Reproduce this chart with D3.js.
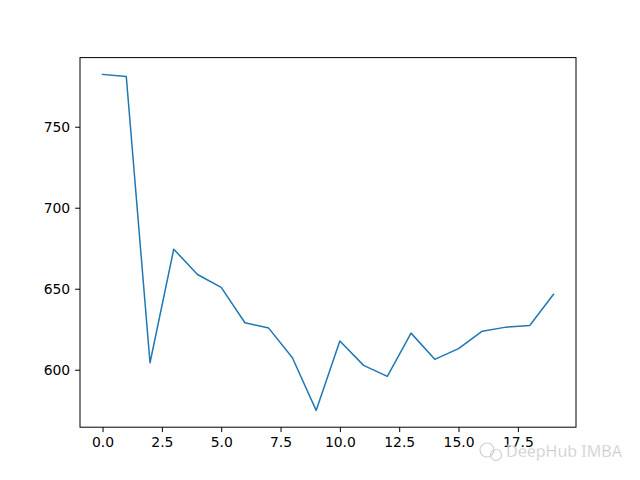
<!DOCTYPE html>
<html><head><meta charset="utf-8">
<script src="https://cdn.jsdelivr.net/npm/d3@7"></script>
<style>body{margin:0;background:#fff}svg{display:block}</style>
</head><body>
<script>
const xValues = d3.range(0, 20);
const yValues = [782.3, 781.0, 604.3, 674.4, 658.8, 650.8, 629.0, 625.7, 607.4, 574.9,
                 617.7, 602.7, 595.9, 622.6, 606.4, 613.0, 623.8, 626.3, 627.3, 646.5];
const xTicks = [0, 2.5, 5, 7.5, 10, 12.5, 15, 17.5];
const yTicks = [600, 650, 700, 750];

const W = 640, H = 480;
const m = {left: 80, right: 576, top: 57.6, bottom: 427.2};
const svg = d3.select("body").append("svg").attr("width", W).attr("height", H);

const xmin = d3.min(xValues), xmax = d3.max(xValues);
const ymin = d3.min(yValues), ymax = d3.max(yValues);
const xp = (xmax - xmin) * 0.05, yp = (ymax - ymin) * 0.05;
const x = d3.scaleLinear().domain([xmin - xp, xmax + xp]).range([m.left, m.right]);
const y = d3.scaleLinear().domain([ymin - yp, ymax + yp]).range([m.bottom, m.top]);

const font = "'DejaVu Sans', sans-serif";

const line = d3.line().x((d, i) => x(xValues[i])).y(d => y(d));
svg.append("path").datum(yValues).attr("d", line)
  .attr("fill", "none").attr("stroke", "#1f77b4").attr("stroke-width", 1.5)
  .attr("stroke-linejoin", "round").attr("stroke-linecap", "square");

const xAxis = svg.append("g").attr("transform", `translate(0,${m.bottom})`)
  .call(d3.axisBottom(x).tickValues(xTicks).tickFormat(d3.format(".1f")).tickSize(4.9).tickPadding(4.9).tickSizeOuter(0));
const yAxis = svg.append("g").attr("transform", `translate(${m.left},0)`)
  .call(d3.axisLeft(y).tickValues(yTicks).tickFormat(d3.format("d")).tickSize(4.9).tickPadding(4.9).tickSizeOuter(0));
[xAxis, yAxis].forEach(a => {
  a.select(".domain").remove();
  a.selectAll("text").attr("font-family", font).attr("font-size", "13.9px").attr("fill", "#000");
  a.selectAll("line").attr("stroke", "#000").attr("stroke-width", 1);
});

svg.append("rect").attr("x", m.left).attr("y", m.top)
  .attr("width", m.right - m.left).attr("height", m.bottom - m.top)
  .attr("fill", "none").attr("stroke", "#000").attr("stroke-width", 1);

// watermark
const wm = svg.append("g").attr("opacity", 0.85);
wm.append("circle").attr("cx", 487).attr("cy", 450).attr("r", 7).attr("fill", "none").attr("stroke", "#c8c8c8").attr("stroke-width", 1.2);
wm.append("circle").attr("cx", 496).attr("cy", 455).attr("r", 5.5).attr("fill", "none").attr("stroke", "#c8c8c8").attr("stroke-width", 1.2);
wm.append("text").attr("x", 506).attr("y", 457).attr("font-family", "'Noto Sans', sans-serif")
  .attr("font-size", "16px").attr("fill", "#bdbdbd").attr("stroke", "#ffffff").attr("stroke-width", 0.3)
  .text("DeepHub IMBA");
</script>
</body></html>
